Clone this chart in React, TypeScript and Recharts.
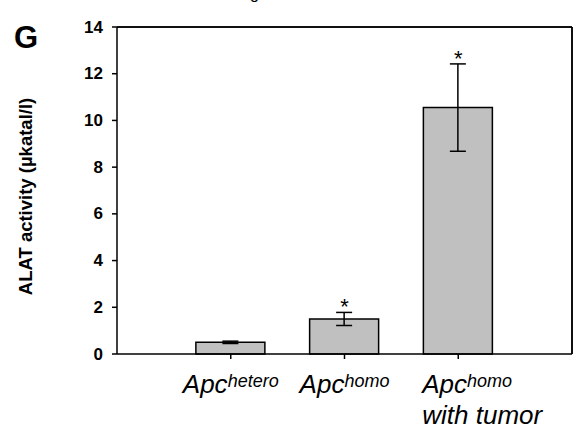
import React from 'react';
import { Bar, CartesianGrid, ComposedChart, ErrorBar, Label, ReferenceLine, Scatter, XAxis, YAxis } from 'recharts';

const slots = [1, 2, 3];
const superscripts = ['hetero', 'homo', 'homo'];
const secondLines = ['', '', 'with tumor'];
const means = [0.5, 1.5, 10.55];
const sems = [0.05, 0.28, 1.87];
const significant = [false, true, true];
const yTicks = [0, 2, 4, 6, 8, 10, 12, 14];

const data = slots.map((s, i) => ({
  slot: s,
  mean: means[i],
  sem: sems[i],
  sig: significant[i],
  starY: significant[i] ? means[i] + sems[i] : null,
}));

const font = '"Liberation Sans", Arial, sans-serif';

function XTick(props: any) {
  const { x, y, payload } = props;
  const i = slots.indexOf(payload.value);
  if (i < 0) return null;
  const base = y + 32;
  if (secondLines[i]) {
    const left = x - 36;
    return (
      <text x={left} y={base} textAnchor="start" fontStyle="italic" fontSize={26} fill="#000" fontFamily={font}>
        <tspan>Apc</tspan>
        <tspan fontSize={18} dy={-6}>{superscripts[i]}</tspan>
        <tspan x={left} y={base + 31}>{secondLines[i]}</tspan>
      </text>
    );
  }
  return (
    <text x={x} y={base} textAnchor="middle" fontStyle="italic" fontSize={26} fill="#000" fontFamily={font}>
      <tspan>Apc</tspan>
      <tspan fontSize={18} dy={-6}>{superscripts[i]}</tspan>
    </text>
  );
}

function YTick(props: any) {
  const { x, y, payload } = props;
  return (
    <text x={x} y={y} textAnchor="end" dominantBaseline="central" fontSize={17} fontWeight="bold" fill="#000" fontFamily={font}>
      {payload.value}
    </text>
  );
}

function Star(props: any) {
  const { cx, cy, payload } = props;
  if (!payload || !payload.sig) return null;
  return (
    <text x={cx} y={cy + 2} textAnchor="middle" fontSize={22} fill="#000" fontFamily={font}>
      *
    </text>
  );
}

function YLabel(props: any) {
  const { viewBox } = props;
  const cx = 25;
  const cy = viewBox.y + viewBox.height / 2 + 6;
  return (
    <text
      x={cx}
      y={cy}
      transform={`rotate(-90, ${cx}, ${cy})`}
      textAnchor="middle"
      dominantBaseline="central"
      fontWeight="bold"
      fontSize={18.5}
      fill="#000"
      fontFamily={font}
    >
      ALAT activity (µkatal/l)
    </text>
  );
}

// frame lines along the top and right edge of the plot area
const frameTop = (p: any) => [p.offset.top];
const frameRight = (p: any) => [p.offset.left + p.offset.width];

export default function App() {
  return (
    <div style={{ position: 'absolute', left: 0, top: 0, width: 583, height: 438 }}>
      <ComposedChart
        width={583}
        height={438}
        data={data}
        margin={{ top: 27, right: 11, left: 0, bottom: 0 }}
        style={{ fontFamily: font }}
      >
        <CartesianGrid
          stroke="#000"
          strokeWidth={1.5}
          horizontalCoordinatesGenerator={frameTop}
          verticalCoordinatesGenerator={frameRight}
        />
        <XAxis
          dataKey="slot"
          type="number"
          domain={[0, 4]}
          ticks={slots}
          interval={0}
          height={84}
          axisLine={{ stroke: '#000', strokeWidth: 1.5 }}
          tickLine={{ stroke: '#000', strokeWidth: 1.5 }}
          tickSize={5}
          tick={<XTick />}
        />
        <YAxis
          width={117}
          domain={[0, 14]}
          ticks={yTicks}
          interval={0}
          tickSize={5}
          tickMargin={9}
          axisLine={{ stroke: '#000', strokeWidth: 1.5 }}
          tickLine={{ stroke: '#000', strokeWidth: 1.5 }}
          tick={<YTick />}
        >
          <Label content={<YLabel />} />
        </YAxis>
        <ReferenceLine y={14} stroke="#000" strokeWidth={1.5} ifOverflow="visible" />
        <ReferenceLine x={4} stroke="#000" strokeWidth={1.5} ifOverflow="visible" />
        <Bar dataKey="mean" barSize={69} fill="#c0c0c0" stroke="#000" strokeWidth={1.5} isAnimationActive={false}>
          <ErrorBar dataKey="sem" width={8} stroke="#000" strokeWidth={1.5} direction="y" />
        </Bar>
        <Scatter dataKey="starY" shape={<Star />} isAnimationActive={false} />
      </ComposedChart>
      <svg width={583} height={438} style={{ position: 'absolute', left: 0, top: 0, pointerEvents: 'none' }}>
        <text x={14} y={48} fontSize={31} fontWeight="bold" fill="#000" fontFamily={font}>G</text>
        <text x={250} y={-1} fontSize={16} fill="#000" fontFamily={font}>g</text>
      </svg>
    </div>
  );
}
